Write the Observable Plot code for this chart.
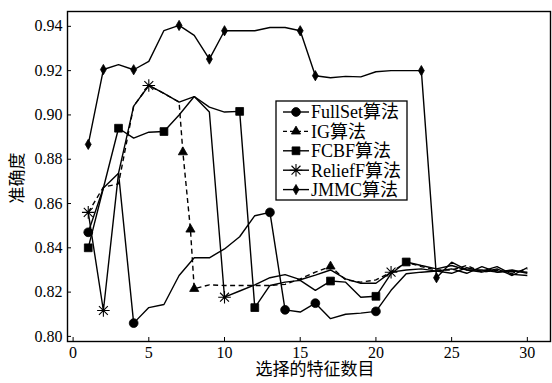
<!DOCTYPE html>
<html><head><meta charset="utf-8">
<script src="https://cdn.jsdelivr.net/npm/d3@7"></script>
<script src="https://cdn.jsdelivr.net/npm/@observablehq/plot@0.6"></script>
<style>
body{margin:0;background:#fff;}
#chart{position:relative;width:552px;height:383px;}
#chart svg, #chart svg text{font-family:'Liberation Serif','Noto Sans CJK SC',serif !important;}
</style></head><body><div id="chart"></div>
<script>
// ---- data ----
const xFeat = [1,2,3,4,5,6,7,8,9,10,11,12,13,14,15,16,17,18,19,20,21,22,23,24,25,26,27,28,29,30];
const igX = [1,2,3,4,5,6,7,7.25,7.75,8,9,10,11,12,13,14,15,16,17,18,19,20,21,22,23,24,25,26,27,28,29,30];

const fullsetAcc = [0.847,0.867,0.8737,0.806,0.813,0.8144,0.8275,0.8355,0.8355,0.8395,0.845,0.8545,0.856,0.812,0.811,0.815,0.808,0.810,0.8105,0.8113,0.8208,0.8283,0.829,0.8295,0.8305,0.8285,0.8315,0.829,0.8295,0.829];
const igAcc = [0.856,0.8674,0.8689,0.904,0.9133,0.9097,0.9058,0.8832,0.8483,0.8215,0.8233,0.823,0.823,0.823,0.823,0.8235,0.826,0.829,0.8316,0.8255,0.8245,0.8255,0.829,0.8335,0.8315,0.830,0.830,0.832,0.829,0.830,0.8285,0.8305];
const fcbfAcc = [0.840,0.867,0.894,0.8895,0.8922,0.8925,0.900,0.9083,0.9035,0.9013,0.9016,0.813,0.823,0.8245,0.8253,0.8208,0.825,0.8245,0.8177,0.8181,0.8283,0.8336,0.832,0.8305,0.832,0.830,0.830,0.829,0.830,0.8285];
const reliefAcc = [0.856,0.8117,0.8737,0.904,0.9133,0.9097,0.9058,0.9083,0.9013,0.8177,0.8205,0.8233,0.8265,0.8279,0.8256,0.8277,0.830,0.826,0.824,0.824,0.829,0.830,0.8305,0.8295,0.8285,0.831,0.8295,0.8315,0.828,0.8275];
const jmmcAcc = [0.8867,0.9205,0.9227,0.9204,0.9242,0.9381,0.9404,0.9359,0.9252,0.938,0.938,0.938,0.9395,0.9395,0.938,0.9177,0.9168,0.9174,0.9172,0.9195,0.920,0.920,0.920,0.8265,0.8335,0.830,0.829,0.8305,0.8275,0.831];

const fullsetMarks = [1,4,13,14,16,20];
const igMarks = [7.25,7.75,8,17];
const fcbfMarks = [1,3,6,11,12,17,20,22];
const reliefMarks = [1,2,5,10,21];
const jmmcMarks = [1,2,4,7,9,10,15,16,23,24];

const seriesNames = ["FullSet算法","IG算法","FCBF算法","ReliefF算法","JMMC算法"];
const xTicks = [0,5,10,15,20,25,30];
const yTicks = [0.80,0.82,0.84,0.86,0.88,0.90,0.92,0.94];
const xLabel = "选择的特征数目";
const yLabel = "准确度";

const FONT = "'Liberation Serif','Noto Sans CJK SC',serif";

// ---- symbols ----
const star8 = {draw(ctx, size){ const r = Math.sqrt(size/Math.PI); const d = r*Math.SQRT1_2;
  ctx.moveTo(-r,0); ctx.lineTo(r,0); ctx.moveTo(0,-r); ctx.lineTo(0,r);
  ctx.moveTo(-d,-d); ctx.lineTo(d,d); ctx.moveTo(-d,d); ctx.lineTo(d,-d); }};

const series = [
  {name:seriesNames[0], x:xFeat, y:fullsetAcc, marks:fullsetMarks, sym:"circle", r:4.4, fill:true},
  {name:seriesNames[1], x:igX, y:igAcc, marks:igMarks, sym:"triangle", r:3.4, fill:true, dash:true},
  {name:seriesNames[2], x:xFeat, y:fcbfAcc, marks:fcbfMarks, sym:"square", r:4.4, fill:true},
  {name:seriesNames[3], x:xFeat, y:reliefAcc, marks:reliefMarks, sym:star8, r:6.3, fill:false},
  {name:seriesNames[4], x:xFeat, y:jmmcAcc, marks:jmmcMarks, sym:"diamond", r:3.1, fill:true}
];
const drawOrder = [1,0,2,3,4];

const marks = [];
for (const k of drawOrder) {
  const s = series[k];
  const d = s.x.map((x,i)=>({x, y:s.y[i]}));
  marks.push(Plot.line(d, {x:"x", y:"y", stroke:"black", strokeWidth:1.4,
    strokeLinejoin:"miter", strokeLinecap:"butt",
    strokeDasharray: s.dash ? "5,3.5" : null}));
}
for (const k of drawOrder) {
  const s = series[k];
  const d = s.x.map((x,i)=>({x, y:s.y[i]})).filter(p => s.marks.includes(p.x));
  marks.push(Plot.dot(d, {x:"x", y:"y", symbol:s.sym, r:s.r,
    fill: s.fill ? "black" : "none", stroke:"black", strokeWidth: s.fill ? 0.8 : 1.1}));
}

const chart = Plot.plot({
  width:552, height:383,
  marginLeft:67, marginRight:2, marginTop:11, marginBottom:42,
  style:{fontFamily:FONT, fontSize:"16px", color:"black", background:"white"},
  x:{domain:[-0.37,31.53]},
  y:{domain:[0.7977,0.9467]},
  marks:[
    Plot.axisX({ticks:xTicks, tickSize:-4, tickPadding:9.6, label:null, fontSize:16, fontFamily:FONT}),
    Plot.axisY({ticks:yTicks, tickSize:-4, tickPadding:9, tickFormat:d=>d.toFixed(2), label:null, fontSize:16, fontFamily:FONT}),
    ...marks,
    Plot.frame({stroke:"black", strokeWidth:1.4})
  ]
});
document.getElementById("chart").appendChild(chart);

// ---- legend & labels ----
const svg = d3.select(chart);
const lg = svg.append("g").attr("text-anchor","start").attr("font-family",FONT);
lg.append("rect").attr("x",276).attr("y",101).attr("width",131).attr("height",99)
  .attr("fill","white").attr("stroke","black").attr("stroke-width",1.3);
series.forEach((s,i)=>{
  const cy = 112 + i*19.4;
  lg.append("line").attr("x1",283).attr("x2",309).attr("y1",cy).attr("y2",cy)
    .attr("stroke","black").attr("stroke-width",1.4)
    .attr("stroke-dasharray", s.dash ? "4,3" : null);
  const type = typeof s.sym === "string"
    ? {circle:d3.symbolCircle, triangle:d3.symbolTriangle, square:d3.symbolSquare, diamond:d3.symbolDiamond}[s.sym]
    : s.sym;
  lg.append("path").attr("d", d3.symbol(type, Math.PI*s.r*s.r)())
    .attr("transform",`translate(296,${cy})`)
    .attr("fill", s.fill ? "black" : "none").attr("stroke","black")
    .attr("stroke-width", s.fill ? 0.8 : 1.1);
  lg.append("text").attr("x",311).attr("y",cy).attr("dy","0.35em").attr("text-anchor","start")
    .attr("font-size",18).attr("fill","black").text(s.name);
});
svg.append("text").attr("x",315).attr("y",369).attr("dy","0.35em").attr("text-anchor","middle")
  .attr("font-size",17).attr("fill","black").text(xLabel);
svg.append("text").attr("transform","translate(17,178) rotate(-90)").attr("dy","0.35em")
  .attr("text-anchor","middle").attr("font-size",17).attr("fill","black").text(yLabel);
</script></body></html>
